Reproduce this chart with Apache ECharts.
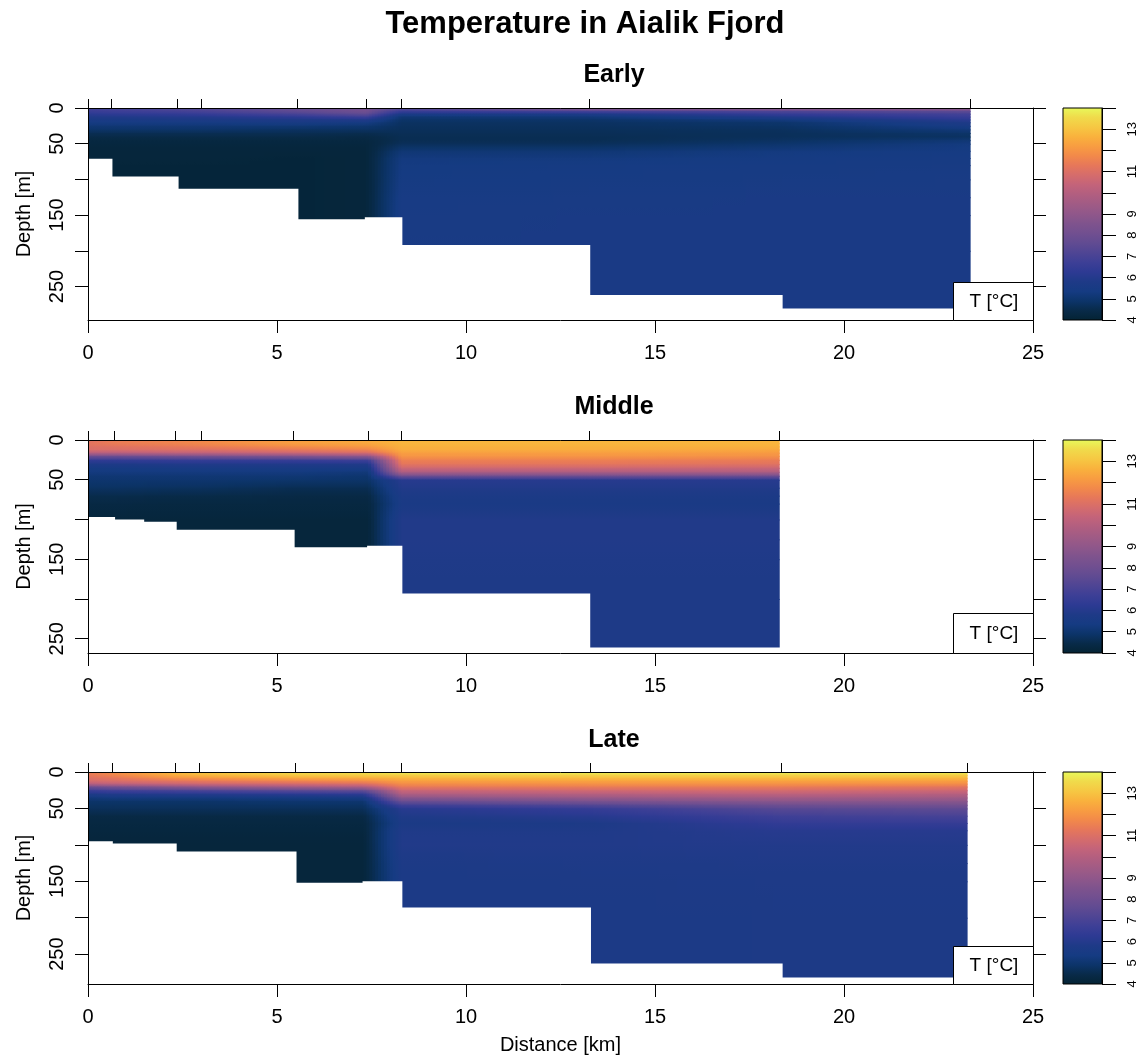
<!DOCTYPE html>
<html><head><meta charset="utf-8">
<script src="https://cdn.jsdelivr.net/npm/echarts@6/dist/echarts.min.js"></script>
<style>html,body{margin:0;padding:0;background:#fff}#c{width:1145px;height:1059px}</style>
</head><body><div id="c"></div>
<script>
// ---------------- data ----------------
const DEPTH_LEVELS = [0,4,8,12,16,20,25,30,35,40,45,50,60,70,80,100,125,150,200,300];

const EARLY_STATIONS = [0, 0.62, 2.37, 3.0, 5.54, 7.35, 8.29, 13.26, 18.35, 23.35];
const EARLY_PROFILES = [
  [6.8,6.6,6.2,5.9,5.6,5.4,5.1,4.9,4.6,4.45,4.3,4.25,4.2,4.2,4.2,4.2,4.2,4.2,4.2,4.2],
  [6.9,6.7,6.3,5.9,5.6,5.4,5.1,4.9,4.6,4.45,4.3,4.25,4.2,4.2,4.15,4.15,4.15,4.15,4.15,4.15],
  [7.2,6.9,6.4,6.0,5.7,5.4,5.1,4.9,4.6,4.45,4.3,4.25,4.2,4.2,4.15,4.15,4.15,4.15,4.15,4.15],
  [7.3,7.0,6.5,6.0,5.7,5.4,5.1,4.9,4.6,4.45,4.3,4.25,4.2,4.2,4.15,4.15,4.15,4.15,4.15,4.15],
  [7.8,7.6,7.0,6.3,5.8,5.5,5.1,4.8,4.6,4.45,4.3,4.25,4.2,4.15,4.15,4.15,4.15,4.15,4.15,4.15],
  [8.2,8.1,7.6,6.7,5.9,5.4,5.0,4.8,4.55,4.4,4.3,4.25,4.2,4.2,4.2,4.2,4.2,4.2,4.2,4.2],
  [7.4,6.6,5.7,5.1,4.9,4.8,4.75,4.7,4.65,4.6,4.6,4.7,5.1,5.3,5.35,5.4,5.5,5.55,5.6,5.6],
  [9.0,7.0,5.8,5.2,4.9,4.8,4.75,4.7,4.65,4.6,4.6,4.7,5.1,5.3,5.4,5.45,5.55,5.6,5.6,5.6],
  [9.3,7.2,6.5,5.9,5.3,4.95,4.85,4.75,4.7,4.7,4.8,4.95,5.3,5.4,5.45,5.5,5.6,5.6,5.6,5.6],
  [9.3,7.6,6.9,6.6,6.2,5.8,5.5,5.2,4.9,4.8,5.1,5.3,5.4,5.45,5.5,5.55,5.6,5.6,5.6,5.6]
];
const EARLY_BOTTOM_EDGES = [0, 0.62, 2.37, 5.54, 7.35, 8.29, 13.26, 18.35, 23.35];
const EARLY_BOTTOM_DEPTHS = [71, 96, 113, 156, 153, 192, 262, 281];

const MIDDLE_STATIONS = [0, 0.69, 2.32, 3.0, 5.44, 7.41, 8.29, 13.26, 18.3];
const MIDDLE_PROFILES = [
  [11.0,11.2,11.0,10.9,10.0,8.0,6.4,5.8,5.4,5.3,5.1,5.0,4.8,4.5,4.35,4.2,4.2,4.2,4.2,4.2],
  [11.4,11.4,11.1,10.9,10.0,8.0,6.4,5.8,5.4,5.3,5.1,5.0,4.8,4.5,4.35,4.2,4.2,4.2,4.2,4.2],
  [11.6,11.6,11.3,11.0,10.2,8.2,6.5,5.9,5.5,5.3,5.1,5.0,4.75,4.45,4.3,4.2,4.2,4.2,4.2,4.2],
  [11.7,11.7,11.4,11.0,10.2,8.3,6.5,5.9,5.5,5.3,5.1,5.0,4.75,4.45,4.3,4.2,4.2,4.2,4.2,4.2],
  [12.2,12.2,11.8,11.3,10.5,8.6,6.6,5.9,5.5,5.3,5.1,4.95,4.6,4.4,4.3,4.2,4.2,4.2,4.2,4.2],
  [12.5,12.4,12.1,11.6,10.8,9.0,6.8,5.9,5.5,5.2,5.0,4.9,4.6,4.4,4.3,4.2,4.2,4.2,4.2,4.2],
  [12.7,12.7,12.6,12.5,12.2,12.0,11.5,11.2,10.6,9.8,8.0,6.1,5.9,5.7,5.6,5.9,5.9,5.85,5.8,5.8],
  [12.7,12.7,12.6,12.5,12.2,12.0,11.5,11.2,10.6,9.8,8.0,6.1,5.9,5.7,5.6,5.9,5.9,5.85,5.8,5.8],
  [12.7,12.7,12.6,12.4,12.1,11.9,11.4,11.1,10.5,9.8,8.0,6.1,5.9,5.7,5.6,5.9,5.9,5.85,5.8,5.8]
];
const MIDDLE_BOTTOM_EDGES = [0, 0.69, 1.46, 2.32, 5.44, 7.41, 8.29, 13.26, 18.3];
const MIDDLE_BOTTOM_DEPTHS = [97, 100, 103, 113, 135, 133, 193, 261];

const LATE_STATIONS = [0, 0.63, 2.32, 2.95, 5.49, 7.29, 8.29, 13.28, 18.35, 23.27];
const LATE_PROFILES = [
  [11.4,11.3,11.0,10.8,10.0,8.0,6.6,5.8,5.2,4.9,4.8,4.7,4.4,4.3,4.25,4.2,4.2,4.2,4.2,4.2],
  [11.8,11.6,11.2,10.9,10.2,8.3,6.8,5.9,5.3,4.9,4.8,4.7,4.4,4.3,4.25,4.2,4.2,4.2,4.2,4.2],
  [12.8,12.5,11.9,11.2,10.5,8.8,7.0,6.0,5.3,4.9,4.8,4.7,4.4,4.3,4.25,4.2,4.2,4.2,4.2,4.2],
  [13.0,12.7,12.0,11.3,10.6,9.0,7.1,6.0,5.3,4.9,4.8,4.7,4.4,4.3,4.25,4.2,4.2,4.2,4.2,4.2],
  [13.5,13.1,12.4,11.6,10.8,9.5,7.5,6.2,5.4,5.0,4.85,4.7,4.4,4.3,4.25,4.2,4.2,4.2,4.2,4.2],
  [13.6,13.2,12.5,11.8,11.0,9.8,7.7,6.3,5.5,5.0,4.85,4.7,4.4,4.3,4.25,4.2,4.2,4.2,4.2,4.2],
  [13.9,13.2,12.7,12.2,11.8,11.3,10.5,9.8,8.8,7.8,6.8,6.1,5.85,5.65,5.85,5.9,5.75,5.7,5.7,5.7],
  [13.9,13.3,12.8,12.3,11.9,11.4,10.7,10.0,9.2,8.3,7.3,6.5,6.1,5.75,5.85,5.9,5.8,5.75,5.7,5.7],
  [13.9,13.3,12.8,12.3,11.9,11.4,10.8,10.2,9.5,8.8,8.0,7.4,6.8,6.4,6.1,5.95,5.85,5.8,5.75,5.75],
  [13.9,13.2,12.7,12.2,11.8,11.2,10.6,10.0,9.4,8.8,8.2,7.6,7.0,6.5,6.1,5.95,5.85,5.8,5.75,5.75]
];
const LATE_BOTTOM_EDGES = [0, 0.63, 2.32, 5.49, 7.29, 8.29, 13.28, 18.35, 23.27];
const LATE_BOTTOM_DEPTHS = [95, 98, 109, 152, 150, 186, 263, 282];

const PANEL_TITLES = ['Early', 'Middle', 'Late'];
const MAIN_TITLE = 'Temperature in Aialik Fjord';
const DISTANCE_TICKS = [0, 5, 10, 15, 20, 25];
const DEPTH_TICKS = [0, 50, 100, 150, 200, 250];
const DEPTH_LABELS = [0, 50, 150, 250];
const TEMP_TICKS = [4, 5, 6, 7, 8, 9, 10, 11, 12, 13, 14];
const TEMP_LABELS = [4, 5, 6, 7, 8, 9, 11, 13];
const TEMP_RANGE = [4, 14];

// thermal-like palette, stops every 0.5 degC from 4 to 14 (style)
const THERMAL = ['#042333','#082a48','#0c3469','#153b82','#1e3a87','#2d3a93','#3d3f96','#4f4594','#614b92','#714f90',
  '#7f538d','#90578a','#a05b85','#b15e80','#c3637a','#d56c6c','#e6775a','#f2894a','#f89d41','#f9b23d',
  '#f6c843','#f0db4b','#e8fa5b'];

// ---------------- helpers ----------------
const PAL_RGB = THERMAL.map(h => [parseInt(h.slice(1,3),16), parseInt(h.slice(3,5),16), parseInt(h.slice(5,7),16)]);
function col(t) {
  let f = (t - TEMP_RANGE[0]) / (TEMP_RANGE[1] - TEMP_RANGE[0]);
  f = Math.max(0, Math.min(1, f)) * (PAL_RGB.length - 1);
  const i = Math.min(PAL_RGB.length - 2, Math.floor(f));
  const w = f - i;
  const a = PAL_RGB[i], b = PAL_RGB[i + 1];
  return 'rgb(' + Math.round(a[0] + (b[0]-a[0])*w) + ',' + Math.round(a[1] + (b[1]-a[1])*w) + ',' + Math.round(a[2] + (b[2]-a[2])*w) + ')';
}

function fieldData(stations, profiles) {
  const out = [];
  for (let i = 0; i < stations.length - 1; i++) {
    for (let j = 0; j < DEPTH_LEVELS.length - 1; j++) {
      out.push([stations[i], stations[i+1], DEPTH_LEVELS[j], DEPTH_LEVELS[j+1],
        profiles[i][j], profiles[i][j+1], profiles[i+1][j], profiles[i+1][j+1], i === stations.length - 2 ? 1 : 0]);
    }
  }
  return out;
}
function floorData(edges, depths) {
  const out = [];
  for (let i = 0; i < depths.length; i++) out.push([edges[i], edges[i+1], depths[i]]);
  return out;
}

function fieldRender(params, api) {
  const x0 = api.value(0), x1 = api.value(1), d0 = api.value(2), d1 = api.value(3);
  const a0 = api.value(4), a1 = api.value(5), b0 = api.value(6), b1 = api.value(7);
  const last = api.value(8) === 1;
  const p0 = api.coord([x0, d0]);
  const p1 = api.coord([x1, d1]);
  const W = p1[0] - p0[0], H = p1[1] - p0[1];
  const n = Math.max(1, Math.round(W / 3));
  const dx = W / n;
  const children = [];
  for (let k = 0; k < n; k++) {
    const w = (k + 0.5) / n;
    const tt = a0 * (1 - w) + b0 * w;
    const tb = a1 * (1 - w) + b1 * w;
    const extra = (last && k === n - 1) ? 0 : 1;
    children.push({
      type: 'rect',
      shape: { x: p0[0] + k * dx, y: p0[1], width: dx + extra, height: H + 1 },
      style: { fill: { type: 'linear', x: 0, y: 0, x2: 0, y2: 1, colorStops: [
        { offset: 0, color: col(tt) }, { offset: 0.5, color: col((tt + tb) / 2) }, { offset: 1, color: col(tb) }] } }
    });
  }
  return { type: 'group', children };
}
function floorRender(params, api) {
  const p0 = api.coord([api.value(0), api.value(2)]);
  const p1 = api.coord([api.value(1), 400]);
  return { type: 'rect', shape: { x: p0[0] - 1, y: p0[1], width: p1[0] - p0[0] + 2, height: p1[1] - p0[1] },
    style: { fill: '#ffffff' } };
}
function barRender(params, api) {
  const p0 = api.coord([api.value(0), api.value(3)]);
  const p1 = api.coord([api.value(1), api.value(2)]);
  const stops = THERMAL.map((c, k) => ({ offset: k / (THERMAL.length - 1), color: THERMAL[THERMAL.length - 1 - k] }));
  return { type: 'rect', shape: { x: p0[0], y: p0[1], width: p1[0] - p0[0], height: p1[1] - p0[1] },
    style: { fill: { type: 'linear', x: 0, y: 0, x2: 0, y2: 1, colorStops: stops }, stroke: '#000', lineWidth: 1 } };
}

// ---------------- layout ----------------
const FONT = 'Liberation Sans, Arial, sans-serif';
const PANELS = [
  { stations: EARLY_STATIONS, profiles: EARLY_PROFILES, edges: EARLY_BOTTOM_EDGES, depths: EARLY_BOTTOM_DEPTHS, top: 108, height: 212, dmax: 297, legend: [953, 282, 80, 38], titleY: 75 },
  { stations: MIDDLE_STATIONS, profiles: MIDDLE_PROFILES, edges: MIDDLE_BOTTOM_EDGES, depths: MIDDLE_BOTTOM_DEPTHS, top: 440, height: 213, dmax: 268, legend: [953, 613, 80, 40], titleY: 407 },
  { stations: LATE_STATIONS, profiles: LATE_PROFILES, edges: LATE_BOTTOM_EDGES, depths: LATE_BOTTOM_DEPTHS, top: 772, height: 212, dmax: 291, legend: [953, 946, 80, 38], titleY: 740 }
];

const axisLine = { show: true, onZero: false, lineStyle: { color: '#000', width: 1 } };
const grids = [], xAxes = [], yAxes = [], series = [], graphics = [];

graphics.push({ type: 'text', x: 585, y: 24, z: 100, style: { text: MAIN_TITLE, font: 'bold 31px ' + FONT, fill: '#000', textAlign: 'center', textVerticalAlign: 'middle' } });

PANELS.forEach((P, p) => {
  grids.push({ left: 88, top: P.top, width: 945, height: P.height, outerBoundsMode: 'none', containLabel: false });
  graphics.push({ type: 'text', x: 614, y: P.titleY, z: 100, style: { text: PANEL_TITLES[p], font: 'bold 25px ' + FONT, fill: '#000', textAlign: 'center', textVerticalAlign: 'middle' } });
  // bottom x axis
  xAxes.push({ gridIndex: p, type: 'value', position: 'bottom', min: 0, max: 25, interval: 5, z: 10,
    axisLine, splitLine: { show: false },
    axisTick: { show: true, inside: false, length: 13, customValues: DISTANCE_TICKS, lineStyle: { color: '#000', width: 1 } },
    axisLabel: { show: true, customValues: DISTANCE_TICKS, fontSize: 20, color: '#000', fontFamily: FONT, margin: 23 },
    name: p === 2 ? 'Distance [km]' : '', nameLocation: 'middle', nameGap: 51, nameMoveOverlap: false,
    nameTextStyle: { fontSize: 20, color: '#000', fontFamily: FONT } });
  // top x axis (station ticks)
  xAxes.push({ gridIndex: p, type: 'value', position: 'top', min: 0, max: 25, z: 10,
    axisLine, splitLine: { show: false },
    axisTick: { show: true, inside: false, length: 9, customValues: P.stations, lineStyle: { color: '#000', width: 1 } },
    axisLabel: { show: false } });
  // left y axis
  yAxes.push({ gridIndex: p, type: 'value', position: 'left', inverse: true, min: 0, max: P.dmax, z: 10,
    axisLine, splitLine: { show: false },
    axisTick: { show: true, inside: false, length: 13, customValues: DEPTH_TICKS, lineStyle: { color: '#000', width: 1 } },
    axisLabel: { show: true, customValues: DEPTH_LABELS, rotate: 90, fontSize: 20, color: '#000', fontFamily: FONT, margin: 21 },
    name: 'Depth [m]', nameLocation: 'middle', nameGap: 54, nameRotate: 90, nameMoveOverlap: false,
    nameTextStyle: { fontSize: 20, color: '#000', fontFamily: FONT } });
  // right y axis
  yAxes.push({ gridIndex: p, type: 'value', position: 'right', inverse: true, min: 0, max: P.dmax, z: 10,
    axisLine, splitLine: { show: false },
    axisTick: { show: true, inside: false, length: 13, customValues: DEPTH_TICKS, lineStyle: { color: '#000', width: 1 } },
    axisLabel: { show: false } });

  series.push({ type: 'custom', name: PANEL_TITLES[p] + ' temperature', xAxisIndex: 2 * p, yAxisIndex: 2 * p,
    renderItem: fieldRender, data: fieldData(P.stations, P.profiles), clip: true, silent: true, z: 2, animation: false });
  series.push({ type: 'custom', name: PANEL_TITLES[p] + ' seafloor', xAxisIndex: 2 * p, yAxisIndex: 2 * p,
    renderItem: floorRender, data: floorData(P.edges, P.depths), clip: true, silent: true, z: 3, animation: false });

  // legend box
  const L = P.legend;
  graphics.push({ type: 'rect', z: 100, shape: { x: L[0] + 0.5, y: L[1] + 0.5, width: L[2], height: L[3] }, style: { fill: '#fff', stroke: '#000', lineWidth: 1 } });
  graphics.push({ type: 'text', z: 101, x: L[0] + L[2] / 2 + 1, y: L[1] + L[3] / 2 + 1, style: { text: 'T [°C]', font: '19px ' + FONT, fill: '#000', textAlign: 'center', textVerticalAlign: 'middle' } });
});

// colour bars
PANELS.forEach((P, p) => {
  grids.push({ left: 1063, top: P.top, width: 39, height: P.height, outerBoundsMode: 'none', containLabel: false });
  xAxes.push({ gridIndex: 3 + p, type: 'value', min: 0, max: 1, show: false });
  yAxes.push({ gridIndex: 3 + p, type: 'value', position: 'right', min: TEMP_RANGE[0], max: TEMP_RANGE[1], interval: 1, z: 10,
    axisLine, splitLine: { show: false },
    axisTick: { show: true, inside: false, length: 14, customValues: TEMP_TICKS, lineStyle: { color: '#000', width: 1 } },
    axisLabel: { show: true, customValues: TEMP_LABELS, rotate: 90, fontSize: 13, color: '#000', fontFamily: FONT, margin: 24 } });
  series.push({ type: 'custom', name: 'colorbar ' + p, xAxisIndex: 6 + p, yAxisIndex: 6 + p,
    renderItem: barRender, data: [[0, 1, TEMP_RANGE[0], TEMP_RANGE[1]]], silent: true, z: 2, animation: false });
});

const chart = echarts.init(document.getElementById('c'), null, { renderer: 'canvas' });
chart.setOption({
  backgroundColor: '#ffffff',
  animation: false,
  grid: grids, xAxis: xAxes, yAxis: yAxes, series: series, graphic: graphics
});
</script></body></html>
